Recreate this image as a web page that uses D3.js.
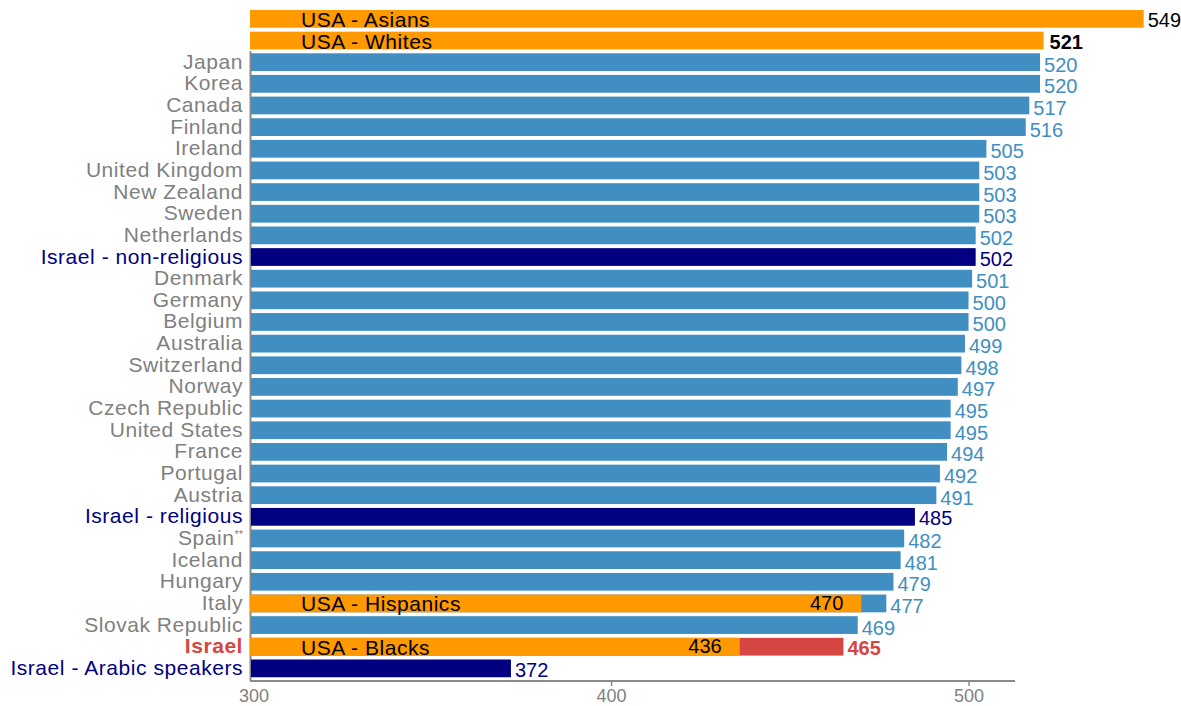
<!DOCTYPE html>
<html>
<head>
<meta charset="utf-8">
<script src="https://cdn.jsdelivr.net/npm/d3@7"></script>
<style>
  html, body { margin: 0; padding: 0; background: #fff; }
  svg text { font-family: "Liberation Sans", Arial, Helvetica, sans-serif; }
</style>
</head>
<body>
<svg id="chart" width="1181" height="706"></svg>
<script>
// ---- data ----
const countries = ["Japan","Korea","Canada","Finland","Ireland","United Kingdom","New Zealand","Sweden","Netherlands","Israel - non-religious","Denmark","Germany","Belgium","Australia","Switzerland","Norway","Czech Republic","United States","France","Portugal","Austria","Israel - religious","Spain","Iceland","Hungary","Italy","Slovak Republic","Israel","Israel - Arabic speakers"];
const scores = [520,520,517,516,505,503,503,503,502,502,501,500,500,499,498,497,495,495,494,492,491,485,482,481,479,477,469,465,372];
const kinds = ["c","c","c","c","c","c","c","c","c","sub","c","c","c","c","c","c","c","c","c","c","c","sub","c","c","c","c","c","il","sub"];
const usaGroups = ["USA - Asians","USA - Whites","USA - Hispanics","USA - Blacks"];
const usaScores = [549,521,470,436];
const usaRows = ["USA - Asians","USA - Whites","Italy","Israel"];
const tickValues = [300,400,500];

// ---- layout ----
const svg = d3.select("#chart");
const rows = ["USA - Asians","USA - Whites"].concat(countries);
const y = d3.scaleBand().domain(rows).range([8.05, 679.2]).paddingInner(0.18).paddingOuter(0.09);
const x = d3.scaleLinear().domain([299, 513]).range([250, 1015]);
const x0 = x.domain()[0];

const colBar = {c: "#418fc2", sub: "#000080", il: "#d64541"};
const colLbl = {c: "#808080", sub: "#000080", il: "#d64541"};
const colVal = {c: "#418fc2", sub: "#000080", il: "#d64541"};
const orange = "#ff9900";
const LBL = 21;
const LS = 0.55;

const cdata = countries.map((d, i) => ({name: d, v: scores[i], k: kinds[i]}));
const udata = usaGroups.map((d, i) => ({name: d, v: usaScores[i], row: usaRows[i]}));

// y axis line
svg.append("line")
  .attr("x1", 250.5).attr("x2", 250.5)
  .attr("y1", y("Japan") - 2).attr("y2", 681)
  .attr("stroke", "#8a8a8a").attr("stroke-width", 2);

// country bars
svg.append("g").selectAll("rect").data(cdata).join("rect")
  .attr("x", x(x0) + 1)
  .attr("y", d => y(d.name))
  .attr("width", d => x(d.v) - x(x0) - 1)
  .attr("height", y.bandwidth())
  .attr("fill", d => colBar[d.k]);

// country labels
const lbl = svg.append("g").selectAll("text").data(cdata).join("text")
  .attr("x", 243)
  .attr("y", d => y(d.name) + y.bandwidth() / 2 + 6.5)
  .attr("text-anchor", "end")
  .attr("font-size", LBL)
  .attr("letter-spacing", LS)
  .attr("font-weight", d => d.k === "il" ? "bold" : "normal")
  .attr("fill", d => colLbl[d.k]);
lbl.append("tspan").text(d => d.name);
lbl.filter(d => d.name === "Spain").append("tspan")
  .attr("font-size", 11).attr("letter-spacing", 0).attr("dy", -7).text("**");

// country values
svg.append("g").selectAll("text").data(cdata).join("text")
  .attr("x", d => x(d.v) + 4)
  .attr("y", d => y(d.name) + y.bandwidth() / 2 + (d.k === "c" ? 9.5 : 8.5))
  .attr("font-size", 20)
  .attr("font-weight", d => d.k === "il" ? "bold" : "normal")
  .attr("fill", d => colVal[d.k])
  .text(d => d.v);

// USA bars
svg.append("g").selectAll("rect").data(udata).join("rect")
  .attr("x", x(x0))
  .attr("y", d => y(d.row))
  .attr("width", d => x(d.v) - x(x0))
  .attr("height", y.bandwidth())
  .attr("fill", orange);

svg.append("g").selectAll("text").data(udata).join("text")
  .attr("x", 301)
  .attr("y", d => y(d.row) + y.bandwidth() / 2 + 8)
  .attr("font-size", LBL)
  .attr("letter-spacing", LS)
  .attr("fill", "#000")
  .text(d => d.name);

svg.append("g").selectAll("text").data(udata).join("text")
  .attr("x", (d, i) => i < 2 ? x(d.v) + (i === 1 ? 6 : 4) : x(d.v) - 18)
  .attr("y", (d, i) => y(d.row) + y.bandwidth() / 2 + (i < 2 ? 8 : 6.5))
  .attr("text-anchor", (d, i) => i < 2 ? "start" : "end")
  .attr("font-size", 20)
  .attr("font-weight", (d, i) => i === 1 ? "bold" : "normal")
  .attr("fill", "#000")
  .text(d => d.v);

// x axis
const xAxis = d3.axisBottom(x).tickValues(tickValues).tickSize(5).tickSizeOuter(0).tickPadding(3);
const gx = svg.append("g").attr("transform", "translate(0,681)").call(xAxis);
gx.select(".domain").attr("stroke", "#8a8a8a").attr("stroke-width", 2).attr("d", `M${x(x0)},0H${x.range()[1]}`);
gx.selectAll(".tick line").attr("stroke", "#8a8a8a").attr("stroke-width", 1.5);
gx.selectAll(".tick").filter(d => d === 300).select("line").remove();
gx.selectAll(".tick text").attr("fill", "#808080").attr("font-size", 18)
  .attr("font-family", "'Liberation Sans', Arial, sans-serif");
</script>
</body>
</html>
